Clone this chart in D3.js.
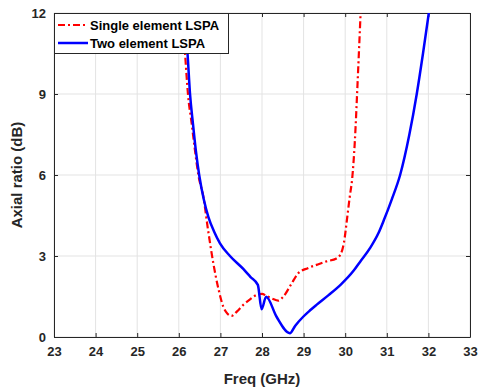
<!DOCTYPE html>
<html>
<head>
<meta charset="utf-8">
<script src="https://cdn.jsdelivr.net/npm/d3@7"></script>
<style>
  body { margin: 0; background: #fff; }
  svg { display: block; font-family: "Liberation Sans", Arial, sans-serif; }
</style>
</head>
<body>
<script>
// Axial ratio vs frequency, single vs two element LSPA
const xTicks = [23, 24, 25, 26, 27, 28, 29, 30, 31, 32, 33];
const yTicks = [0, 3, 6, 9, 12];

const singleFreq = [26.08, 26.15, 26.22, 26.31, 26.39, 26.47, 26.59, 26.7, 26.83, 26.95, 27.07, 27.17, 27.27, 27.4, 27.55, 27.72, 27.87, 28.0, 28.11, 28.25, 28.39, 28.51, 28.7, 28.87, 29.1, 29.31, 29.55, 29.79, 29.9, 29.97, 30.05, 30.11, 30.17, 30.23, 30.3, 30.37];
const singleAR   = [12.0, 10.5, 9.0, 7.9, 6.9, 6.0, 5.2, 4.0, 2.73, 1.8, 1.12, 0.86, 0.78, 0.95, 1.19, 1.4, 1.56, 1.6, 1.52, 1.42, 1.35, 1.49, 1.95, 2.36, 2.55, 2.67, 2.8, 2.91, 3.1, 3.5, 4.45, 5.2, 5.9, 7.2, 9.5, 12.0];

const twoFreq = [26.14, 26.21, 26.27, 26.34, 26.41, 26.49, 26.6, 26.71, 26.85, 26.99, 27.23, 27.55, 27.72, 27.9, 27.99, 28.1, 28.35, 28.67, 28.8, 28.99, 29.15, 29.31, 29.6, 29.9, 30.2, 30.36, 30.6, 30.8, 30.93, 31.12, 31.32, 31.54, 31.72, 31.87, 32.01];
const twoAR   = [12.0, 10.5, 9.0, 7.9, 6.9, 6.0, 5.1, 4.45, 3.9, 3.47, 3.0, 2.52, 2.23, 1.93, 1.03, 1.49, 0.75, 0.14, 0.42, 0.75, 0.98, 1.19, 1.55, 1.95, 2.45, 2.79, 3.3, 3.85, 4.33, 5.1, 6.0, 7.48, 9.0, 10.5, 12.0];

const width = 479, height = 390;
const margin = {top: 13, right: 9, bottom: 53, left: 54};
const innerW = width - margin.left - margin.right;
const innerH = height - margin.top - margin.bottom;
const axisColor = "#262626";

const svg = d3.select("body").append("svg")
  .attr("width", width).attr("height", height);

const x = d3.scaleLinear().domain([23, 33]).range([0, innerW]);
const y = d3.scaleLinear().domain([0, 12]).range([innerH, 0]);

const g = svg.append("g").attr("transform", `translate(${margin.left},${margin.top})`);

// Grilla
g.append("g").selectAll("line").data(xTicks).join("line")
  .attr("x1", d => x(d)).attr("x2", d => x(d))
  .attr("y1", 0).attr("y2", innerH)
  .attr("stroke", "#e3e3e3").attr("stroke-width", 1);
g.append("g").selectAll("line").data(yTicks).join("line")
  .attr("x1", 0).attr("x2", innerW)
  .attr("y1", d => y(d)).attr("y2", d => y(d))
  .attr("stroke", "#e3e3e3").attr("stroke-width", 1);

// Ejes (ticks hacia dentro, caja completa)
const styleAxis = sel => {
  sel.select(".domain").attr("stroke", axisColor);
  sel.selectAll(".tick line").attr("stroke", axisColor);
  sel.selectAll("text").attr("fill", axisColor)
    .attr("font-size", 13).attr("font-weight", "bold")
    .attr("font-family", "'Liberation Sans', Arial, sans-serif");
};
g.append("g").attr("transform", `translate(0,${innerH})`)
  .call(d3.axisBottom(x).tickValues(xTicks).tickSize(-4).tickSizeOuter(0).tickPadding(10))
  .call(styleAxis);
g.append("g")
  .call(d3.axisLeft(y).tickValues(yTicks).tickSize(-4).tickSizeOuter(0).tickPadding(8))
  .call(styleAxis);
g.append("g")
  .call(d3.axisTop(x).tickValues(xTicks).tickSize(-4).tickSizeOuter(0).tickFormat(""))
  .call(styleAxis);
g.append("g").attr("transform", `translate(${innerW},0)`)
  .call(d3.axisRight(y).tickValues(yTicks).tickSize(-4).tickSizeOuter(0).tickFormat(""))
  .call(styleAxis);

// Curvas
svg.append("defs").append("clipPath").attr("id", "clip")
  .append("rect").attr("width", innerW).attr("height", innerH);

const line = d3.line().x(d => x(d[0])).y(d => y(d[1])).curve(d3.curveMonotoneX);
const plot = g.append("g").attr("clip-path", "url(#clip)");

plot.append("path")
  .datum(d3.zip(singleFreq, singleAR))
  .attr("d", line)
  .attr("fill", "none").attr("stroke", "#ff0000").attr("stroke-width", 2.2)
  .attr("stroke-dasharray", "7,3,2,3");

plot.append("path")
  .datum(d3.zip(twoFreq, twoAR))
  .attr("d", line)
  .attr("fill", "none").attr("stroke", "#0000ff").attr("stroke-width", 2.5)
  .attr("stroke-linejoin", "round");

// Leyenda
const leg = g.append("g");
leg.append("rect").attr("x", 0.5).attr("y", 0.5).attr("width", 174).attr("height", 40)
  .attr("fill", "#fff").attr("stroke", axisColor).attr("stroke-width", 1);
const entries = [
  {label: "Single element LSPA", color: "#ff0000", dash: "7,3,2,3", w: 2.2},
  {label: "Two element LSPA", color: "#0000ff", dash: null, w: 2.5},
];
entries.forEach((e, i) => {
  const yy = 12 + i * 18;
  leg.append("line").attr("x1", 4).attr("x2", 34).attr("y1", yy).attr("y2", yy)
    .attr("stroke", e.color).attr("stroke-width", e.w)
    .attr("stroke-dasharray", e.dash);
  leg.append("text").attr("x", 36).attr("y", yy).attr("dy", "0.35em")
    .attr("font-size", 13).attr("font-weight", "bold").attr("fill", "#000")
    .text(e.label);
});

// Títulos de ejes
g.append("text").attr("x", innerW / 2).attr("y", innerH + 47)
  .attr("text-anchor", "middle").attr("font-size", 15).attr("font-weight", "bold")
  .attr("fill", axisColor).text("Freq (GHz)");
g.append("text").attr("transform", "rotate(-90)")
  .attr("x", -innerH / 2).attr("y", -32)
  .attr("text-anchor", "middle").attr("font-size", 15).attr("font-weight", "bold")
  .attr("fill", axisColor).text("Axial ratio (dB)");
</script>
</body>
</html>
